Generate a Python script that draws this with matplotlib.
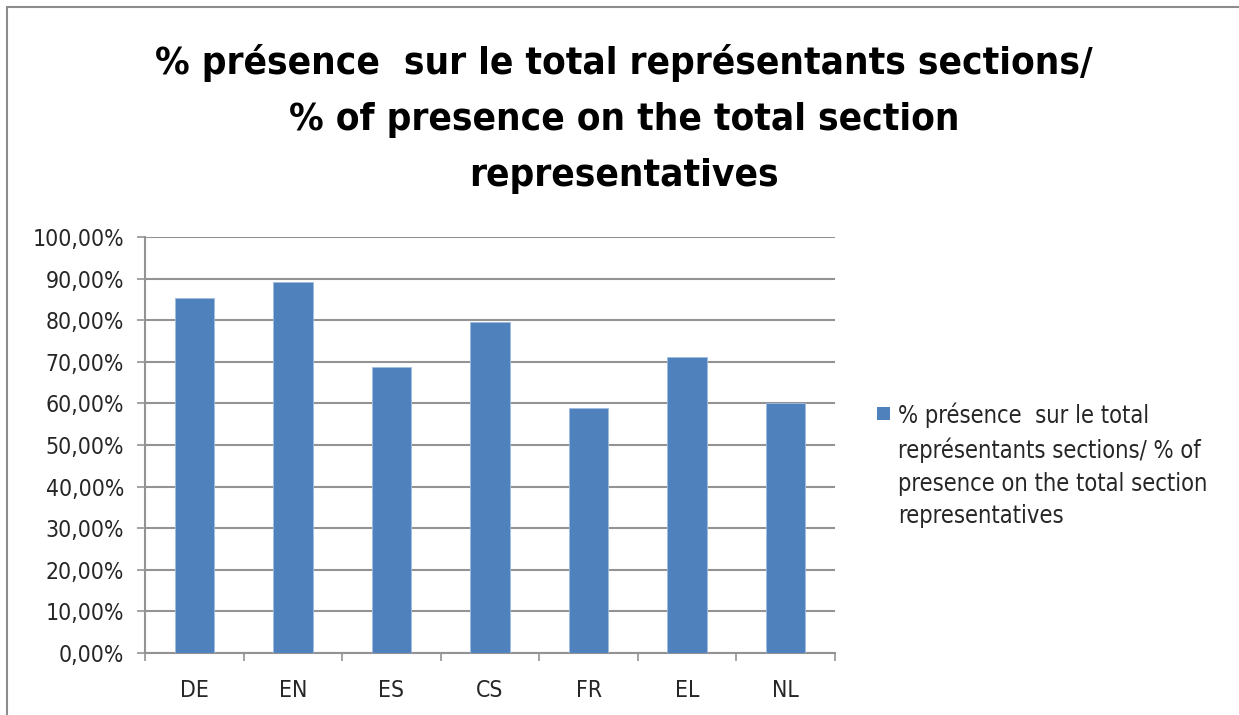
import matplotlib
matplotlib.use('Agg')
import numpy as np
from matplotlib import pyplot as plt
from matplotlib.patches import Rectangle
from matplotlib.ticker import FuncFormatter, MultipleLocator, FixedLocator

# data
categories = ['DE', 'EN', 'ES', 'CS', 'FR', 'EL', 'NL']
presence = [85.3, 89.3, 68.8, 79.5, 58.8, 71.2, 60.0]

title = ("% présence  sur le total représentants sections/\n"
         "% of presence on the total section\nrepresentatives")
legend_text = ("% présence  sur le total\nreprésentants sections/ % of\n"
               "presence on the total section\nrepresentatives")

plt.rcParams['font.family'] = ['DejaVu Sans']
plt.rcParams['font.stretch'] = 'condensed'

fig = plt.figure(figsize=(12.39, 7.15), dpi=100)

# chart frame
fig.patches.append(Rectangle((7/1239, -0.1), 1.2, (708+71.5)/715, transform=fig.transFigure,
                             fill=False, edgecolor='#8c8c8c', linewidth=1.5))

ax = fig.add_axes([145/1239, 62/715, 690/1239, 416/715])
x = np.arange(len(categories))
ax.bar(x, presence, width=0.4, color='#4f81bd', edgecolor='#9fbde0', linewidth=0.6, zorder=3)

ax.set_xlim(-0.5, len(categories) - 0.5)
ax.set_ylim(0, 100)
ax.yaxis.set_major_locator(MultipleLocator(10))
ax.yaxis.set_major_formatter(FuncFormatter(lambda v, p: ('%.2f%%' % v).replace('.', ',')))
ax.grid(axis='y', color='#939393', linewidth=1.5, zorder=0)

ax.set_xticks(x)
ax.set_xticklabels(categories)
ax.xaxis.set_minor_locator(FixedLocator(np.arange(-0.5, len(categories), 1)))
ax.tick_params(axis='x', which='major', length=0, pad=19, labelsize=16.5, labelcolor='#262626')
ax.tick_params(axis='x', which='minor', length=6, color='#939393', width=1.2)
ax.tick_params(axis='y', length=6, color='#939393', width=1.2, labelsize=16.5, pad=9,
               labelcolor='#262626')

for s in ['top', 'right']:
    ax.spines[s].set_visible(False)
for s in ['left', 'bottom']:
    ax.spines[s].set_color('#939393')
    ax.spines[s].set_linewidth(1.5)

fig.text(624/1239, 1 - 119/715, title, ha='center', va='center', fontsize=27.7,
         fontweight='bold', linespacing=1.73)

# legend
fig.patches.append(Rectangle((877/1239, 1 - 420/715), 13/1239, 13/715, transform=fig.transFigure,
                             facecolor='#4f81bd', edgecolor='none'))
fig.text(898/1239, 1 - 403/715, legend_text, ha='left', va='top', fontsize=17,
         linespacing=1.45, color='#262626')

fig.savefig('out.png', dpi=100)
